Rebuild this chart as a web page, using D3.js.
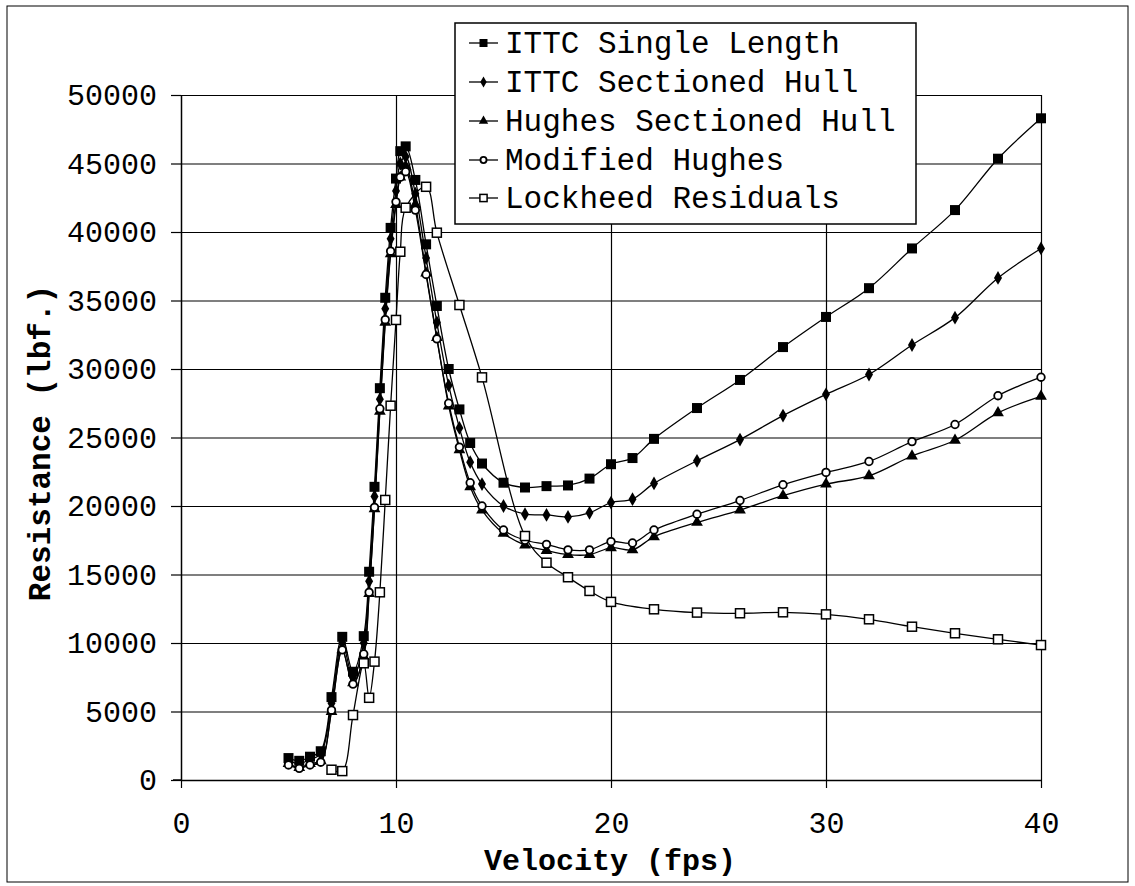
<!DOCTYPE html>
<html>
<head>
<meta charset="utf-8">
<script src="https://cdn.jsdelivr.net/npm/d3@7"></script>
<style>
  body { margin: 0; background: #fff; }
  svg { display: block; }
  text { font-family: "Liberation Mono", "Courier New", monospace; fill: #000; }
</style>
</head>
<body>
<svg id="chart" width="1135" height="886"></svg>
<script>
// ---- data ----
const velocity = [5, 5.5, 6, 6.5, 7, 7.5, 8, 8.5, 8.75, 9, 9.25, 9.5, 9.75, 10, 10.2, 10.45, 10.9, 11.4, 11.9, 12.45, 12.95, 13.45, 14, 15, 16, 17, 18, 19, 20, 21, 22, 24, 26, 28, 30, 32, 34, 36, 38, 40];
const ittcSingle = [1600,1400,1700,2100,6050,10450,7900,10500,15200,21400,28600,35200,40300,43900,45900,46250,43800,39100,34600,30000,27050,24600,23100,21700,21350,21450,21500,22000,23050,23500,24900,27150,29200,31600,33800,35900,38800,41600,45350,48300];
const ittcSectioned = [1400,1200,1500,1900,5600,10000,7500,10000,14500,20700,27800,34400,39500,43000,45000,45500,42800,38100,33400,28800,25700,23200,21600,20000,19400,19350,19200,19500,20250,20500,21650,23300,24850,26600,28150,29600,31750,33750,36650,38800];
const hughesSectioned = [1200,900,1200,1400,5000,9500,7100,9000,13600,19800,26900,33400,38400,42000,44000,44800,42000,37000,32300,27300,24100,21400,19700,18000,17150,16750,16450,16450,16950,16800,17750,18800,19700,20750,21600,22200,23650,24800,26800,28000];
const modifiedHughes = [1100,850,1100,1300,5100,9500,7000,9200,13700,19900,27100,33600,38600,42200,44000,44400,41600,36900,32200,27500,24300,21700,20000,18250,17500,17200,16800,16800,17400,17300,18250,19400,20400,21550,22450,23250,24700,25950,28050,29400];
const lockheedVelocity = [7, 7.5, 8, 8.5, 8.75, 9, 9.25, 9.5, 9.75, 10, 10.2, 10.45, 11.4, 11.9, 12.95, 14, 16, 17, 18, 19, 20, 22, 24, 26, 28, 30, 32, 34, 36, 38, 40];
const lockheedResiduals = [750,650,4740,8520,6000,8640,13700,20440,27320,33580,38560,41770,43300,39950,34670,29390,17810,15860,14800,13800,13000,12460,12220,12170,12240,12090,11730,11190,10710,10270,9850];
const seriesNames = ["ITTC Single Length", "ITTC Sectioned Hull", "Hughes Sectioned Hull", "Modified Hughes", "Lockheed Residuals"];
const xTicks = [0, 10, 20, 30, 40];
const yTicks = [0, 5000, 10000, 15000, 20000, 25000, 30000, 35000, 40000, 45000, 50000];
const xTitle = "Velocity (fps)";
const yTitle = "Resistance (lbf.)";

// ---- layout ----
const svg = d3.select("#chart");
const pLeft = 181, pRight = 1041, pTop = 95, pBottom = 780;
const x = d3.scaleLinear().domain([0, 40]).range([pLeft, pRight]);
const y = d3.scaleLinear().domain([0, 50000]).range([pBottom, pTop]);

// outer frame
svg.append("rect").attr("x", 7).attr("y", 6).attr("width", 1121).attr("height", 876)
  .attr("fill", "none").attr("stroke", "#000").attr("stroke-width", 1);

// horizontal grid
svg.append("g").attr("transform", `translate(${pLeft},0)`)
  .call(d3.axisLeft(y).tickValues(yTicks).tickSize(-(pRight - pLeft)).tickFormat(""))
  .call(g => g.select(".domain").remove())
  .call(g => g.selectAll("line").attr("stroke", "#000").attr("stroke-width", 1.2));
// vertical grid
svg.append("g").attr("transform", `translate(0,${pBottom})`)
  .call(d3.axisBottom(x).tickValues(xTicks.slice(1)).tickSize(-(pBottom - pTop)).tickFormat(""))
  .call(g => g.select(".domain").remove())
  .call(g => g.selectAll("line").attr("stroke", "#000").attr("stroke-width", 1.2));

// y axis
svg.append("g").attr("transform", `translate(${pLeft},0)`)
  .call(d3.axisLeft(y).tickValues(yTicks).tickSize(10).tickSizeOuter(0).tickPadding(14).tickFormat(d3.format("d")))
  .call(g => g.selectAll("line").attr("stroke", "#000").attr("stroke-width", 1.2))
  .call(g => g.select(".domain").attr("stroke", "#000").attr("stroke-width", 1.5))
  .call(g => g.selectAll("text").style("font-size", "30px").style("font-family", "Liberation Mono"));
// x axis
svg.append("g").attr("transform", `translate(0,${pBottom})`)
  .call(d3.axisBottom(x).tickValues(xTicks).tickSize(8).tickSizeOuter(0).tickPadding(24))
  .call(g => g.selectAll("line").attr("stroke", "#000").attr("stroke-width", 1.2))
  .call(g => g.select(".domain").attr("stroke", "#000").attr("stroke-width", 1.5))
  .call(g => g.selectAll("text").style("font-size", "30px").style("font-family", "Liberation Mono"));
svg.append("line").attr("x1", pLeft - 8).attr("x2", pLeft).attr("y1", pBottom).attr("y2", pBottom)
  .attr("stroke", "#000").attr("stroke-width", 1.5);

// titles
svg.append("text").attr("x", 610).attr("y", 870).attr("text-anchor", "middle")
  .style("font-size", "30px").style("font-weight", "bold").text(xTitle);
svg.append("text").attr("transform", "translate(50,443) rotate(-90)").attr("text-anchor", "middle")
  .style("font-size", "31px").style("font-weight", "bold").text(yTitle);

// ---- series ----
const curve = d3.curveCatmullRom.alpha(0.5);
const line = d3.line().x(d => x(d[0])).y(d => y(d[1])).curve(curve);
const zip = (xs, ys) => xs.map((v, i) => [v, ys[i]]);

const series = [
  { name: seriesNames[0], pts: zip(velocity, ittcSingle), marker: "square" },
  { name: seriesNames[1], pts: zip(velocity, ittcSectioned), marker: "diamond" },
  { name: seriesNames[2], pts: zip(velocity, hughesSectioned), marker: "triangle" },
  { name: seriesNames[3], pts: zip(velocity, modifiedHughes), marker: "circle" },
  { name: seriesNames[4], pts: zip(lockheedVelocity, lockheedResiduals), marker: "open" }
];

function drawMarker(g, type, cx, cy, scale) {
  const s = scale || 1;
  if (type === "square") {
    g.append("rect").attr("x", cx - 5 * s).attr("y", cy - 5 * s).attr("width", 10 * s).attr("height", 10 * s).attr("fill", "#000");
  } else if (type === "diamond") {
    g.append("path").attr("d", d3.symbol(d3.symbolDiamond, 55 * s * s)()).attr("transform", `translate(${cx},${cy})`).attr("fill", "#000");
  } else if (type === "triangle") {
    g.append("path").attr("d", d3.symbol(d3.symbolTriangle, 60 * s * s)()).attr("transform", `translate(${cx},${cy})`).attr("fill", "#000");
  } else if (type === "circle") {
    g.append("circle").attr("cx", cx).attr("cy", cy).attr("r", 3.8 * s).attr("fill", "#fff").attr("stroke", "#000").attr("stroke-width", 1.8);
  } else {
    g.append("rect").attr("x", cx - 4.5 * s).attr("y", cy - 4.5 * s).attr("width", 9 * s).attr("height", 9 * s).attr("fill", "#fff").attr("stroke", "#000").attr("stroke-width", 1.5);
  }
}

const plot = svg.append("g");
series.forEach(s => {
  plot.append("path").attr("d", line(s.pts)).attr("fill", "none").attr("stroke", "#000").attr("stroke-width", 1.3);
});
series.forEach(s => {
  const g = plot.append("g");
  s.pts.forEach(p => drawMarker(g, s.marker, x(p[0]), y(p[1])));
});

// ---- legend ----
const lg = svg.append("g");
lg.append("rect").attr("x", 455).attr("y", 23).attr("width", 461).attr("height", 201)
  .attr("fill", "#fff").attr("stroke", "#000").attr("stroke-width", 1.5);
const rowY = [53, 92, 131, 170, 208];
series.forEach((s, i) => {
  const cy = rowY[i] - 10;
  lg.append("line").attr("x1", 469).attr("x2", 498).attr("y1", cy).attr("y2", cy).attr("stroke", "#000").attr("stroke-width", 1.3);
  drawMarker(lg, s.marker, 483.5, cy, 0.8);
  lg.append("text").attr("x", 505).attr("y", rowY[i]).style("font-size", "31px").text(s.name);
});
</script>
</body>
</html>
